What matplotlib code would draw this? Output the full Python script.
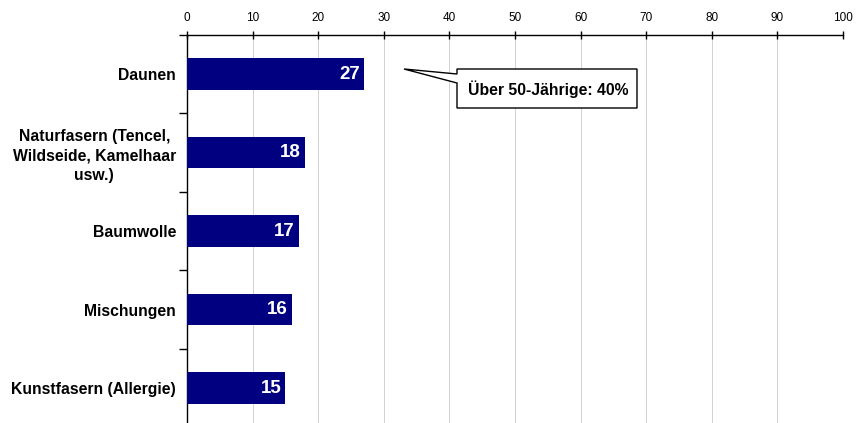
import numpy as np
import matplotlib.pyplot as plt
from matplotlib.patches import Polygon

plt.rcParams['font.family'] = ['Liberation Sans', 'DejaVu Sans']

categories = ['Daunen', 'Naturfasern (Tencel,\nWildseide, Kamelhaar\nusw.)',
              'Baumwolle', 'Mischungen', 'Kunstfasern (Allergie)']
values = [27, 18, 17, 16, 15]
x_ticks = list(range(0, 101, 10))
callout_text = 'Über 50-Jährige: 40%'

W, H = 856, 423
fig = plt.figure(figsize=(W / 100, H / 100), dpi=100)
# plot area runs slightly past the bottom edge of the figure
left, right, top, bottom = 187, 843, 34.75, 427.25
ax = fig.add_axes([left / W, (H - bottom) / H, (right - left) / W, (bottom - top) / H])

y = np.arange(len(categories))
ax.barh(y, values, height=0.4, color='#000080', zorder=3)
for yi, v in zip(y, values):
    ax.text(v - 0.6, yi, str(v), color='white', fontsize=13.5, fontweight='bold',
            ha='right', va='center', zorder=4)

ax.set_xlim(0, 100)
ax.set_ylim(len(categories) - 0.5, -0.5)
ax.xaxis.tick_top()
ax.set_xticks(x_ticks)
ax.tick_params(axis='x', direction='inout', length=6, width=1, labelsize=8.5, pad=5)
ax.grid(axis='x', color='#d0d0d0', linewidth=0.7, zorder=0)

# category ticks sit on the boundaries between bars
ax.set_yticks(np.arange(len(categories) + 1) - 0.5, minor=True)
ax.set_yticks(y)
ax.set_yticklabels(categories, fontsize=11.3, fontweight='bold', ha='right',
                   multialignment='center', linespacing=1.35)
ax.tick_params(axis='y', which='major', length=0, pad=8)
ax.tick_params(axis='y', which='minor', length=6, width=1, direction='out')

for s in ['right', 'bottom']:
    ax.spines[s].set_visible(False)
ax.spines['left'].set_linewidth(1)
ax.spines['top'].set_linewidth(1)


# callout box with pointer, in pixel coordinates converted to data
def px(xp, yp):
    return ((xp - left) / (right - left) * 100,
            (yp - top) / (bottom - top) * len(categories) - 0.5)


pts = [px(457, 69), px(637, 69), px(637, 108), px(457, 108),
       px(457, 83), px(404, 69), px(457, 74)]
ax.add_patch(Polygon(pts, closed=True, facecolor='white', edgecolor='black',
                     linewidth=1, zorder=5))
tx, ty = px(548, 89)
ax.text(tx, ty, callout_text, fontsize=11.3, fontweight='bold',
        ha='center', va='center', zorder=6)

fig.savefig('out.png', dpi=100, facecolor='white')
